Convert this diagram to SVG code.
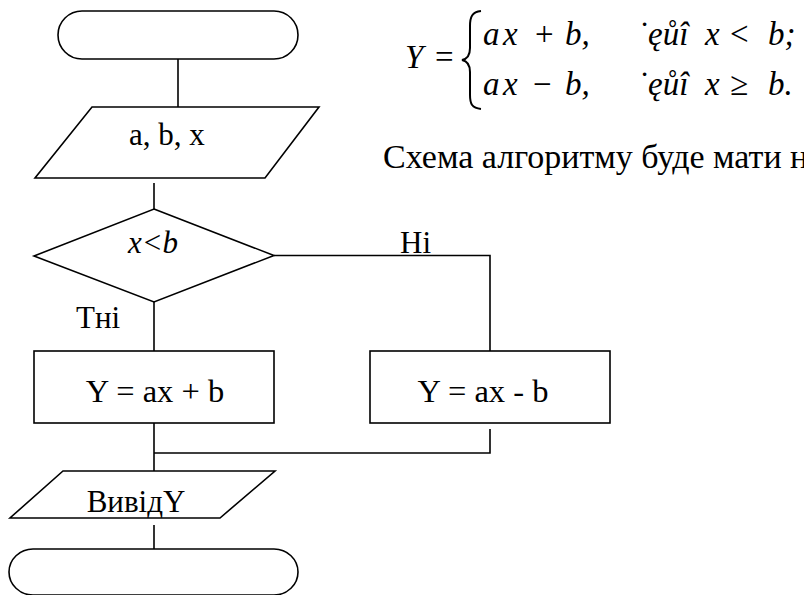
<svg xmlns="http://www.w3.org/2000/svg" width="804" height="595" viewBox="0 0 804 595">
<style>
.s{fill:#fff;stroke:#000;stroke-width:1.6}
.c{fill:none;stroke:#000;stroke-width:1.6}
.t{font-family:"Liberation Serif","Times New Roman",serif;font-size:31px;fill:#000}
.b{font-size:32.5px}
.p{font-family:"Liberation Serif","Times New Roman",serif;font-size:34px;fill:#000}
.m{font-family:"Liberation Serif","Times New Roman",serif;font-size:33px;font-style:italic;fill:#000}
.n{font-family:"Liberation Serif","Times New Roman",serif;font-size:33px;fill:#000}
</style>
<rect width="804" height="595" fill="#fff"/>
<g id="formula">
<text class="m" x="405" y="68">Y</text>
<text class="n" x="435" y="68">=</text>
<path d="M481,11 C472,12 470,17 470,26 L470,48 C470,55 467,59 462,60 C467,61 470,65 470,72 L470,95 C470,104 472,108 481,109" fill="none" stroke="#000" stroke-width="2"/>
<text class="m" y="45"><tspan x="483">a</tspan><tspan x="503">x</tspan><tspan x="535" font-style="normal">+</tspan><tspan x="565">b,</tspan></text>
<text class="m" x="637" y="45">˙ęůî</text>
<text class="m" y="45"><tspan x="705">x</tspan><tspan x="730" font-style="normal">&lt;</tspan><tspan x="768">b;</tspan></text>
<text class="m" y="95"><tspan x="483">a</tspan><tspan x="503">x</tspan><tspan x="533" font-style="normal">−</tspan><tspan x="565">b,</tspan></text>
<text class="m" x="637" y="95">˙ęůî</text>
<text class="m" y="95"><tspan x="705">x</tspan><tspan x="730" font-style="normal">≥</tspan><tspan x="768">b.</tspan></text>
</g>
<text class="p" x="383" y="168">Схема алгоритму буде мати н</text>
<g id="connectors">
<path class="c" d="M178,59 V107"/>
<path class="c" d="M154,183 V209"/>
<path class="c" d="M274,255.5 H490 V351"/>
<path class="c" d="M154,302 V351"/>
<path class="c" d="M154,423 V471"/>
<path class="c" d="M490,429 V453 H154"/>
<path class="c" d="M154,525 V550"/>
</g>
<g id="start"><rect class="s" x="58" y="11" width="240" height="48" rx="24" ry="24"/></g>
<g id="input"><path class="s" d="M92,107 H319 L265,178 H35 Z"/><text class="t" x="167" y="145" text-anchor="middle">a, b, x</text></g>
<g id="decision"><path class="s" d="M154,209 L274,255.5 L154,302 L34,256 Z"/><text class="t" x="153" y="253" text-anchor="middle" font-style="italic">x&lt;b</text></g>
<text class="t" x="400" y="253">Нi</text>
<text class="t" x="76" y="328">Тнi</text>
<g id="yes"><rect class="s" x="34" y="351" width="240" height="72"/><text class="t b" x="155" y="402" text-anchor="middle">Y = ax + b</text></g>
<g id="no"><rect class="s" x="370" y="351" width="240" height="72"/><text class="t b" x="483" y="402" text-anchor="middle">Y = ax - b</text></g>
<g id="output"><path class="s" d="M63,471 H275 L220,518 H10 Z"/><text class="t" x="136" y="512" text-anchor="middle">ВивідY</text></g>
<g id="end"><rect class="s" x="9" y="549" width="289" height="46" rx="24" ry="23"/></g>
</svg>
